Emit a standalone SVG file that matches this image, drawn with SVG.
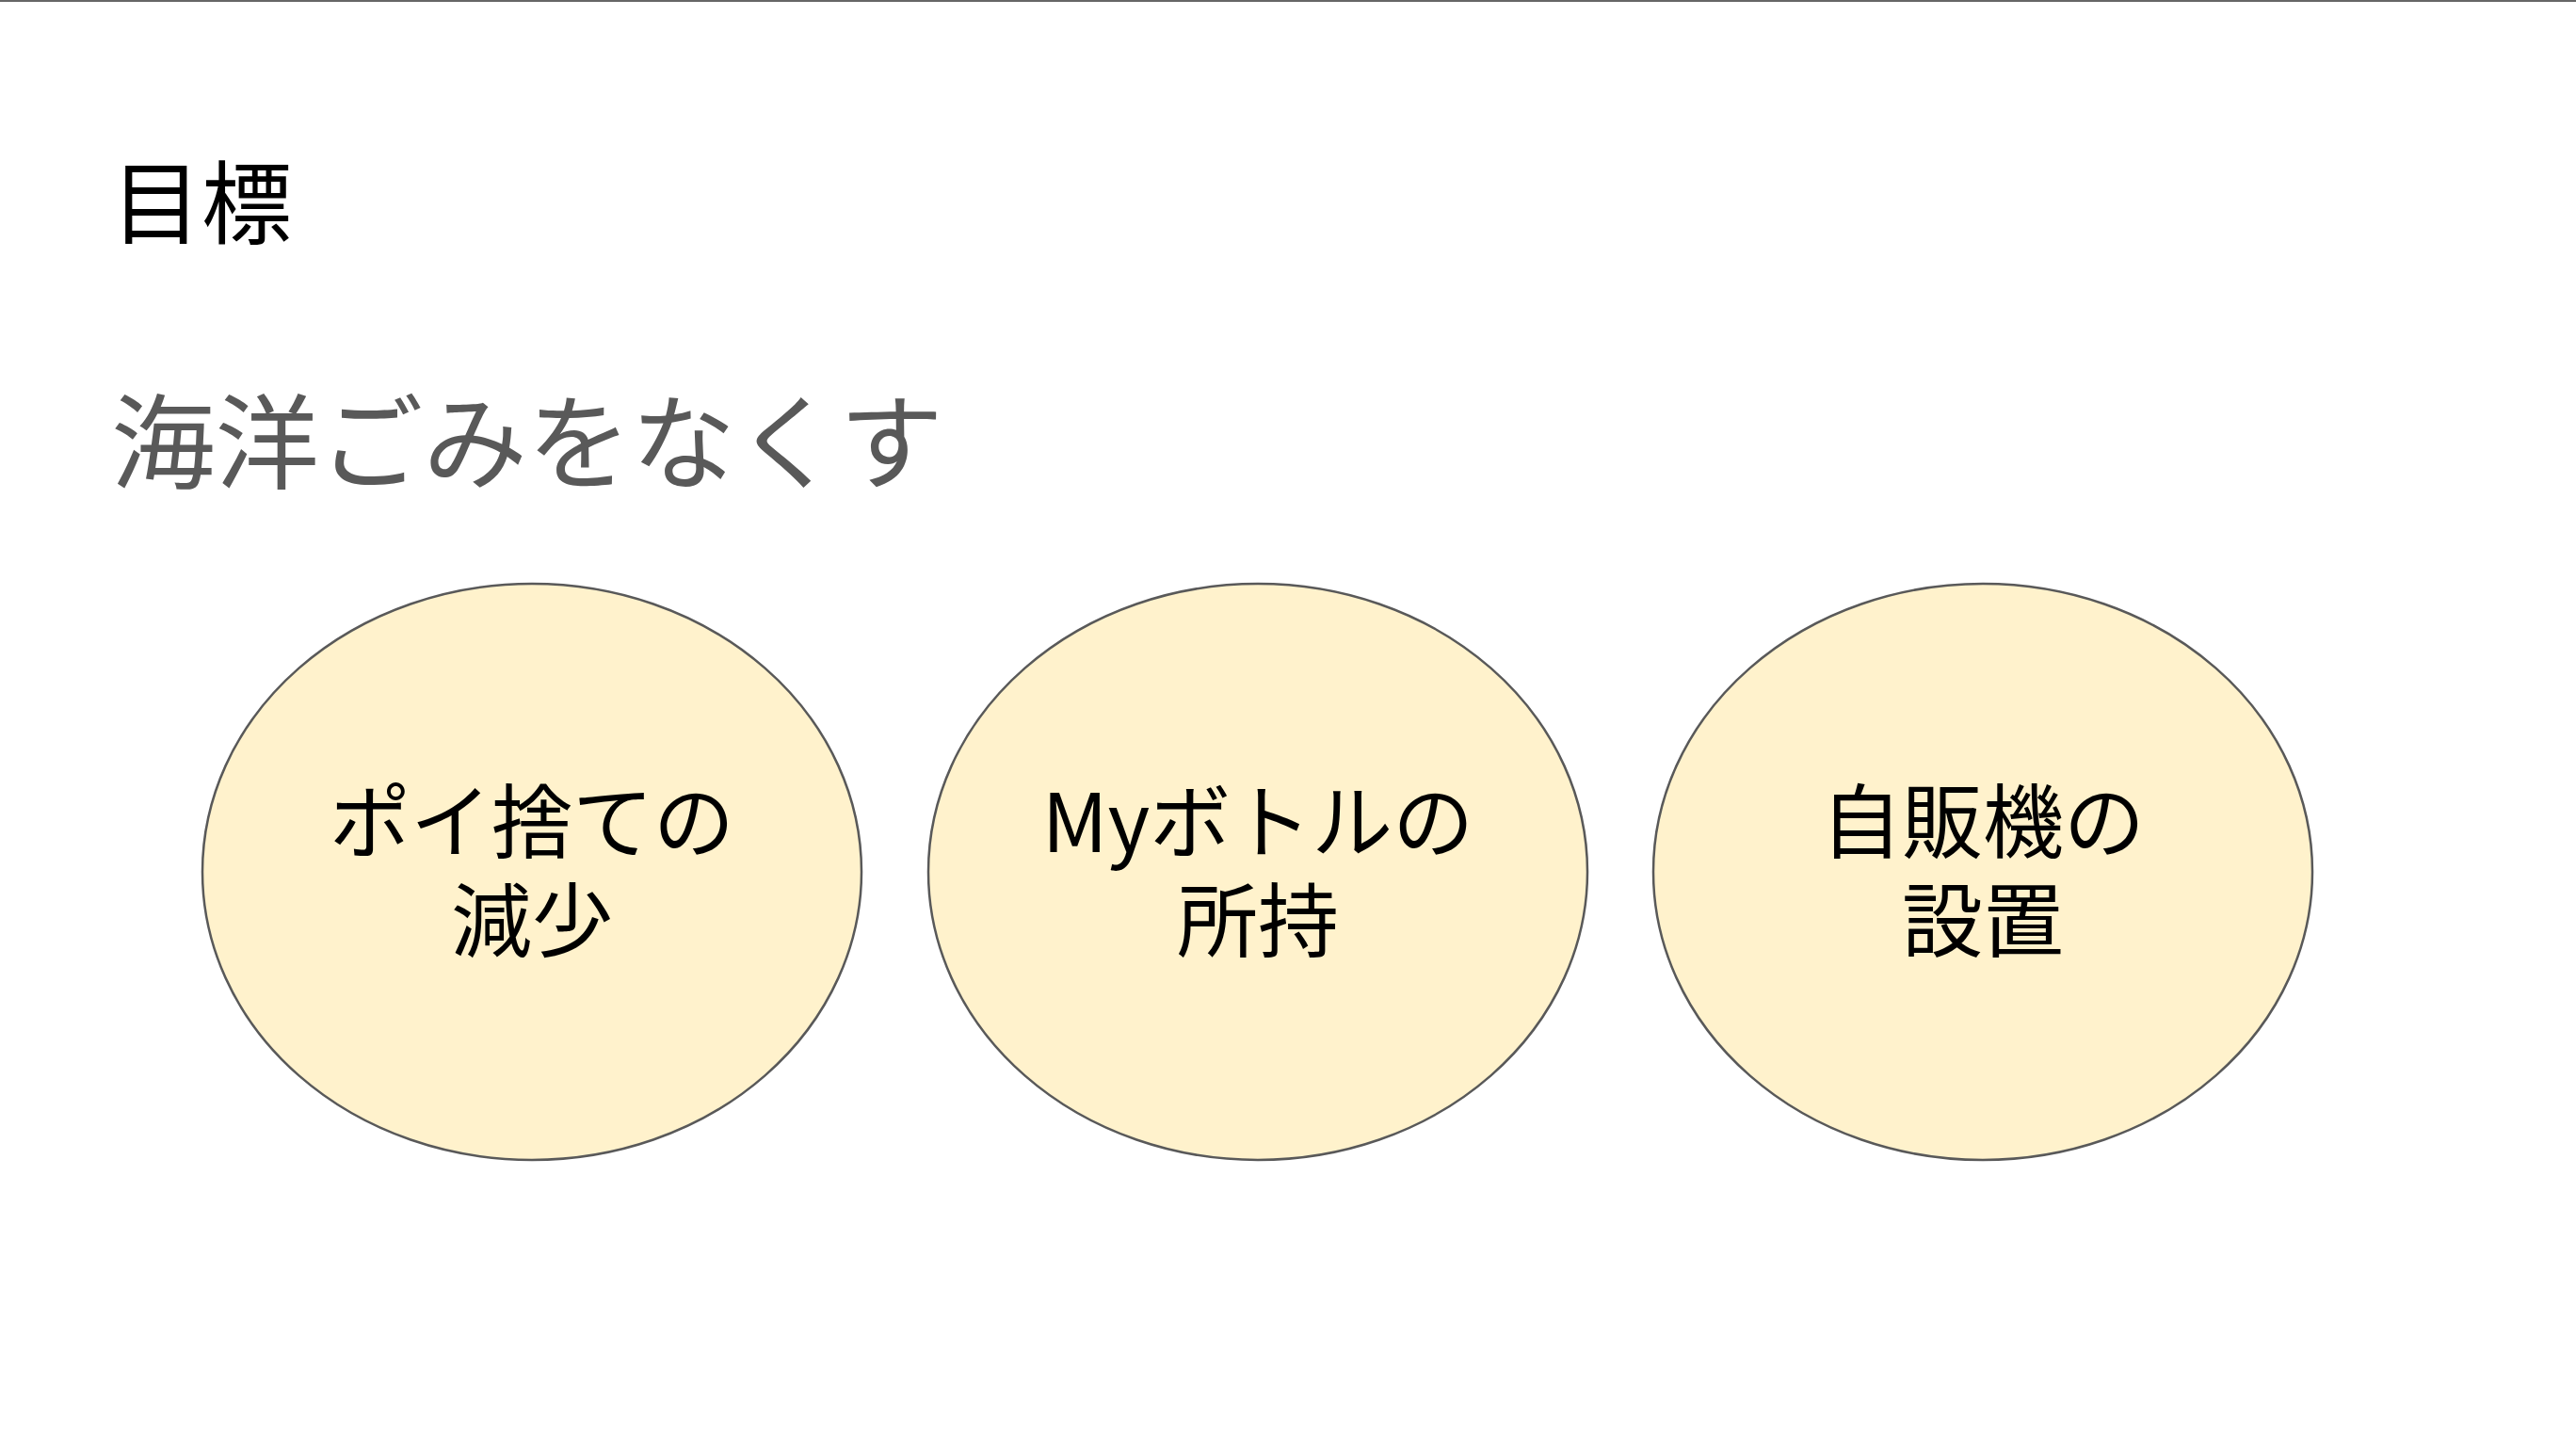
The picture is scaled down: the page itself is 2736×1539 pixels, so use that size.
<svg xmlns="http://www.w3.org/2000/svg" width="2736" height="1539" viewBox="0 0 2736 1539">
<style>
.jp{font-family:"Noto Sans CJK JP","Noto Sans",sans-serif}
.node ellipse{fill:#FFF2CC;stroke:#595959;stroke-width:2.5}
.node text{font-size:86px;fill:#000;text-anchor:middle}
</style>
<rect x="0" y="0" width="2736" height="1539" fill="#FFFFFF"/>
<rect x="0" y="0" width="2736" height="2" fill="#666666"/>
<text class="jp" x="118" y="251" font-size="96" fill="#000">目標</text>
<text class="jp" x="118" y="511" font-size="110.5" fill="#595959">海洋ごみをなくす</text>
<g id="node1" class="node">
<ellipse cx="565" cy="926" rx="350" ry="306"/>
<text class="jp" x="565" y="905">ポイ捨ての</text>
<text class="jp" x="565" y="1010">減少</text>
</g>
<g id="node2" class="node">
<ellipse cx="1336" cy="926" rx="350" ry="306"/>
<text class="jp" x="1336" y="905">Myボトルの</text>
<text class="jp" x="1336" y="1010">所持</text>
</g>
<g id="node3" class="node">
<ellipse cx="2106" cy="926" rx="350" ry="306"/>
<text class="jp" x="2106" y="905">自販機の</text>
<text class="jp" x="2106" y="1010">設置</text>
</g>
<g id="connectors"></g>
</svg>
